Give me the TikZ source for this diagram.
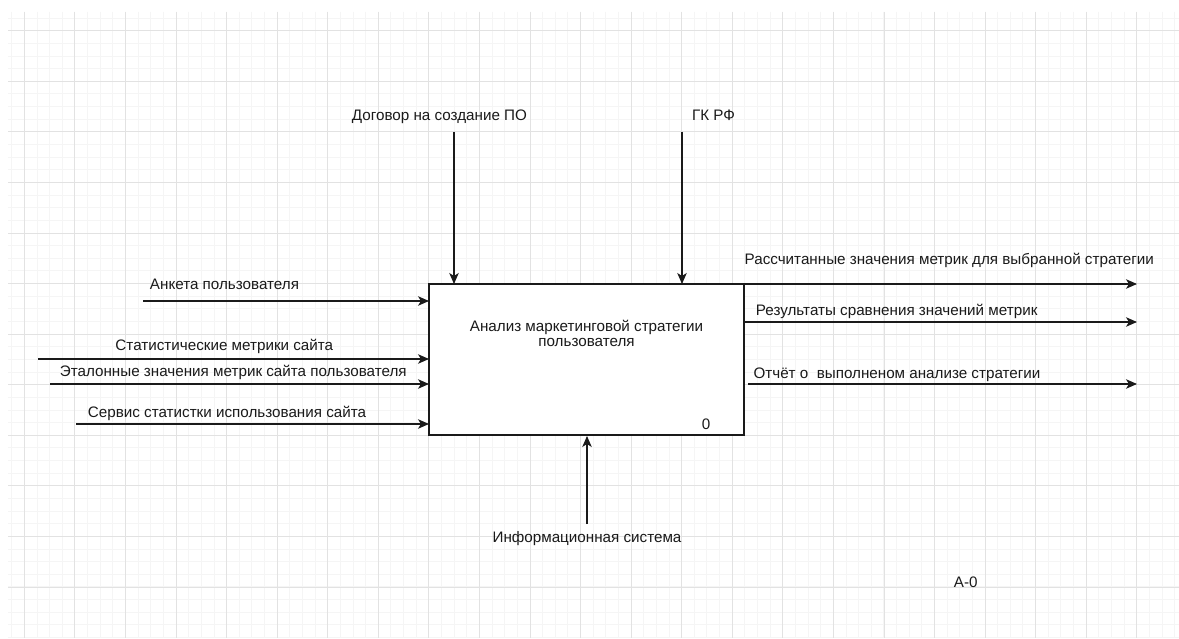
\documentclass[tikz,border=0pt]{standalone}
\usepackage{fontspec}
\setmainfont{Liberation Sans}
\usetikzlibrary{arrows.meta}
\definecolor{gridminor}{HTML}{F5F5F5}
\definecolor{gridmajor}{HTML}{E2E2E2}
\definecolor{ink}{HTML}{1A1A1A}
\tikzset{
  minorline/.style={gridminor, line width=0.8pt},
  majorline/.style={gridmajor, line width=0.9pt},
  funcbox/.style={draw=ink, line width=1.3pt, fill=white, minimum width=315pt, minimum height=151pt, inner sep=0pt},
  flow/.style={draw=ink, line width=1.2pt, -{Stealth[length=11pt,width=9.5pt,inset=3pt]}},
  lbl/.style={anchor=base, inner sep=0pt, text=ink, font=\fontsize{15.2}{17}\selectfont},
}
\begin{document}
\begin{tikzpicture}[x=1pt, y=-1pt]
\useasboundingbox (0,0) rectangle (1179,639);
\fill[white] (0,0) rectangle (1179,639);
% background grid
\foreach \i in {0,...,92} \draw[minorline] ({11.66+12.64*\i},12) -- ({11.66+12.64*\i},638);
\foreach \j in {0,...,49} \draw[minorline] (8,{18.06+12.64*\j}) -- (1179,{18.06+12.64*\j});
\foreach \i in {0,...,22} \draw[majorline] ({24.3+50.57*\i},12) -- ({24.3+50.57*\i},638);
\foreach \j in {0,...,11} \draw[majorline] (8,{30.7+50.57*\j}) -- (1179,{30.7+50.57*\j});

% function block
\node[funcbox] (box) at (586.5,359.5) {};
\node[lbl] (boxtitle1) at (586.5,331) {Анализ маркетинговой стратегии};
\node[lbl] (boxtitle2) at (586.5,347) {пользователя};
\node[lbl] (boxnum) at (706,429.3) {0};

% arrow end points
\coordinate (ctlA) at (454,132);
\coordinate (ctlAend) at (454,284);
\coordinate (ctlB) at (682,132);
\coordinate (ctlBend) at (682,284);
\coordinate (inA) at (143,301);
\coordinate (inAend) at (429,301);
\coordinate (inB) at (38,359);
\coordinate (inBend) at (429,359);
\coordinate (inC) at (50,384);
\coordinate (inCend) at (429,384);
\coordinate (inD) at (76,424);
\coordinate (inDend) at (429,424);
\coordinate (outA) at (744,284);
\coordinate (outAend) at (1137,284);
\coordinate (outB) at (744,322);
\coordinate (outBend) at (1137,322);
\coordinate (outC) at (748,384);
\coordinate (outCend) at (1137,384);
\coordinate (mech) at (587,524);
\coordinate (mechend) at (587,436);

% controls
\draw[flow] (ctlA) -- (ctlAend);
\draw[flow] (ctlB) -- (ctlBend);
\node[lbl] (ctlAtext) at (439.5,121) {Договор на создание ПО};
\node[lbl] (ctlBtext) at (713.5,121) {ГК РФ};

% inputs
\draw[flow] (inA) -- (inAend);
\draw[flow] (inB) -- (inBend);
\draw[flow] (inC) -- (inCend);
\draw[flow] (inD) -- (inDend);
\node[lbl] (inAtext) at (224.5,290) {Анкета пользователя};
\node[lbl] (inBtext) at (224.3,350.7) {Статистические метрики сайта};
\node[lbl] (inCtext) at (233.3,376.7) {Эталонные значения метрик сайта пользователя};
\node[lbl] (inDtext) at (227,417.3) {Сервис статистки использования сайта};

% outputs
\draw[flow] (outA) -- (outAend);
\draw[flow] (outB) -- (outBend);
\draw[flow] (outC) -- (outCend);
\node[lbl] (outAtext) at (949.3,265) {Рассчитанные значения метрик для выбранной стратегии};
\node[lbl] (outBtext) at (896.7,316) {Результаты сравнения значений метрик};
\node[lbl] (outCtext) at (897,378.3) {Отчёт о \ выполненом анализе стратегии};

% mechanism
\draw[flow] (mech) -- (mechend);
\node[lbl] (mechtext) at (587,542.7) {Информационная система};

% diagram number
\node[lbl] (diagnum) at (965.7,587.3) {A-0};
\end{tikzpicture}
\end{document}
